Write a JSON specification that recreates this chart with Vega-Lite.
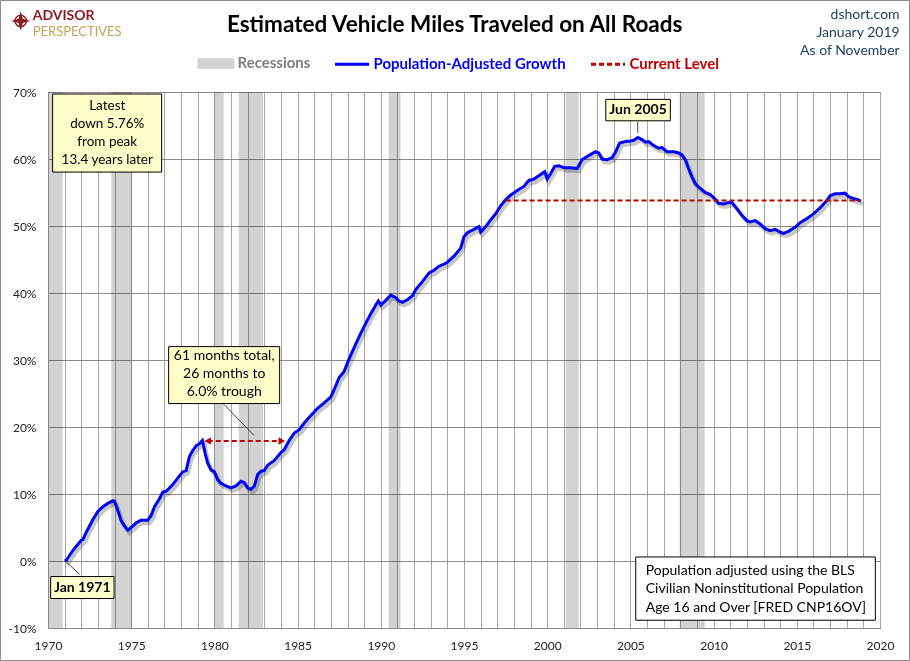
{
  "$schema": "https://vega.github.io/schema/vega-lite/v6.json",
  "width": 832,
  "height": 536,
  "autosize": {"type": "none"},
  "padding": {"left": 48, "top": 92, "right": 30, "bottom": 33},
  "background": "white",
  "config": {"font": "Lato", "view": {"stroke": "#8c8c8c", "strokeWidth": 1}, "axis": {"labelOverlap": false}},
  "datasets": {
    "rec": [
      {"start": 1970.0, "end": 1970.88},
      {"start": 1973.8, "end": 1975.05},
      {"start": 1980.0, "end": 1980.56},
      {"start": 1981.46, "end": 1982.92},
      {"start": 1990.47, "end": 1991.18},
      {"start": 2001.11, "end": 2001.89},
      {"start": 2007.96, "end": 2009.46}
    ],
    "level": [{"from": 1997.5, "to": 2018.85, "pct": 53.8}],
    "vmt": [
      {"year": 1971.0, "pct": 0.0}, {"year": 1971.1, "pct": 0.1}, {"year": 1971.5, "pct": 1.6}, {"year": 1972.0, "pct": 3.1},
      {"year": 1972.1, "pct": 3.2}, {"year": 1972.3, "pct": 4.3}, {"year": 1972.7, "pct": 6.2}, {"year": 1973.0, "pct": 7.4},
      {"year": 1973.3, "pct": 8.1}, {"year": 1973.6, "pct": 8.6}, {"year": 1973.9, "pct": 9.0}, {"year": 1974.0, "pct": 8.9},
      {"year": 1974.2, "pct": 7.5}, {"year": 1974.4, "pct": 6.0}, {"year": 1974.6, "pct": 5.2}, {"year": 1974.8, "pct": 4.6},
      {"year": 1975.0, "pct": 5.0}, {"year": 1975.3, "pct": 5.7}, {"year": 1975.6, "pct": 6.1}, {"year": 1976.0, "pct": 6.1},
      {"year": 1976.2, "pct": 6.8}, {"year": 1976.4, "pct": 8.1}, {"year": 1976.7, "pct": 9.3}, {"year": 1976.9, "pct": 10.3},
      {"year": 1977.1, "pct": 10.4}, {"year": 1977.5, "pct": 11.4}, {"year": 1977.9, "pct": 12.7}, {"year": 1978.1, "pct": 13.3},
      {"year": 1978.3, "pct": 13.5}, {"year": 1978.5, "pct": 15.6}, {"year": 1978.7, "pct": 16.5}, {"year": 1978.9, "pct": 17.2},
      {"year": 1979.1, "pct": 17.5}, {"year": 1979.28, "pct": 18.0}, {"year": 1979.45, "pct": 16.0}, {"year": 1979.6, "pct": 14.6},
      {"year": 1979.8, "pct": 13.6}, {"year": 1980.0, "pct": 13.3}, {"year": 1980.2, "pct": 12.1}, {"year": 1980.4, "pct": 11.6},
      {"year": 1980.7, "pct": 11.2}, {"year": 1981.0, "pct": 10.9}, {"year": 1981.3, "pct": 11.2}, {"year": 1981.6, "pct": 11.9},
      {"year": 1981.8, "pct": 11.7}, {"year": 1982.0, "pct": 10.9}, {"year": 1982.2, "pct": 10.7}, {"year": 1982.4, "pct": 11.2},
      {"year": 1982.6, "pct": 12.9}, {"year": 1982.8, "pct": 13.4}, {"year": 1983.0, "pct": 13.5}, {"year": 1983.2, "pct": 14.3},
      {"year": 1983.6, "pct": 15.0}, {"year": 1984.0, "pct": 16.2}, {"year": 1984.2, "pct": 16.6}, {"year": 1984.5, "pct": 18.0},
      {"year": 1984.8, "pct": 19.1}, {"year": 1985.1, "pct": 19.6}, {"year": 1985.4, "pct": 20.6}, {"year": 1985.8, "pct": 21.7},
      {"year": 1986.2, "pct": 22.8}, {"year": 1986.6, "pct": 23.6}, {"year": 1987.0, "pct": 24.5}, {"year": 1987.2, "pct": 25.6},
      {"year": 1987.5, "pct": 27.4}, {"year": 1987.8, "pct": 28.3}, {"year": 1988.1, "pct": 30.2}, {"year": 1988.5, "pct": 32.4},
      {"year": 1988.8, "pct": 34.0}, {"year": 1989.1, "pct": 35.5}, {"year": 1989.4, "pct": 36.9}, {"year": 1989.7, "pct": 38.2},
      {"year": 1989.85, "pct": 38.8}, {"year": 1990.0, "pct": 38.2}, {"year": 1990.3, "pct": 38.9}, {"year": 1990.6, "pct": 39.7},
      {"year": 1990.9, "pct": 39.3}, {"year": 1991.1, "pct": 38.8}, {"year": 1991.3, "pct": 38.6}, {"year": 1991.6, "pct": 39.0},
      {"year": 1991.9, "pct": 39.6}, {"year": 1992.1, "pct": 40.5}, {"year": 1992.5, "pct": 41.7}, {"year": 1992.9, "pct": 43.0},
      {"year": 1993.2, "pct": 43.4}, {"year": 1993.5, "pct": 44.0}, {"year": 1993.8, "pct": 44.3}, {"year": 1994.0, "pct": 44.6},
      {"year": 1994.4, "pct": 45.5}, {"year": 1994.8, "pct": 46.7}, {"year": 1995.0, "pct": 48.4}, {"year": 1995.2, "pct": 49.0},
      {"year": 1995.6, "pct": 49.5}, {"year": 1995.9, "pct": 49.9}, {"year": 1996.0, "pct": 49.1}, {"year": 1996.3, "pct": 49.9},
      {"year": 1996.6, "pct": 50.9}, {"year": 1996.9, "pct": 51.8}, {"year": 1997.2, "pct": 53.0}, {"year": 1997.5, "pct": 53.9},
      {"year": 1997.8, "pct": 54.6}, {"year": 1998.2, "pct": 55.3}, {"year": 1998.6, "pct": 55.9}, {"year": 1998.9, "pct": 56.8},
      {"year": 1999.2, "pct": 57.0}, {"year": 1999.5, "pct": 57.5}, {"year": 1999.85, "pct": 58.1}, {"year": 2000.0, "pct": 57.0},
      {"year": 2000.2, "pct": 57.8}, {"year": 2000.45, "pct": 58.9}, {"year": 2000.7, "pct": 59.0}, {"year": 2001.0, "pct": 58.7},
      {"year": 2001.4, "pct": 58.7}, {"year": 2001.8, "pct": 58.6}, {"year": 2002.1, "pct": 59.9}, {"year": 2002.5, "pct": 60.5},
      {"year": 2002.9, "pct": 61.1}, {"year": 2003.1, "pct": 60.9}, {"year": 2003.3, "pct": 60.0}, {"year": 2003.6, "pct": 59.9},
      {"year": 2003.9, "pct": 60.2}, {"year": 2004.1, "pct": 61.0}, {"year": 2004.35, "pct": 62.4}, {"year": 2004.7, "pct": 62.6},
      {"year": 2005.0, "pct": 62.7}, {"year": 2005.2, "pct": 62.8}, {"year": 2005.45, "pct": 63.2}, {"year": 2005.7, "pct": 62.9},
      {"year": 2005.9, "pct": 62.5}, {"year": 2006.1, "pct": 62.6}, {"year": 2006.4, "pct": 62.0}, {"year": 2006.7, "pct": 61.6},
      {"year": 2006.9, "pct": 61.7}, {"year": 2007.2, "pct": 61.1}, {"year": 2007.6, "pct": 61.1}, {"year": 2007.9, "pct": 60.9},
      {"year": 2008.1, "pct": 60.6}, {"year": 2008.3, "pct": 59.9}, {"year": 2008.5, "pct": 58.5}, {"year": 2008.7, "pct": 57.3},
      {"year": 2008.9, "pct": 56.3}, {"year": 2009.2, "pct": 55.6}, {"year": 2009.5, "pct": 55.0}, {"year": 2009.8, "pct": 54.7},
      {"year": 2010.1, "pct": 54.0}, {"year": 2010.3, "pct": 53.4}, {"year": 2010.6, "pct": 53.3}, {"year": 2010.9, "pct": 53.5},
      {"year": 2011.1, "pct": 53.5}, {"year": 2011.4, "pct": 52.6}, {"year": 2011.7, "pct": 51.6}, {"year": 2012.0, "pct": 50.8},
      {"year": 2012.2, "pct": 50.6}, {"year": 2012.5, "pct": 50.8}, {"year": 2012.8, "pct": 50.3}, {"year": 2013.1, "pct": 49.6},
      {"year": 2013.4, "pct": 49.3}, {"year": 2013.7, "pct": 49.5}, {"year": 2014.0, "pct": 49.1}, {"year": 2014.2, "pct": 48.9},
      {"year": 2014.5, "pct": 49.2}, {"year": 2014.9, "pct": 49.8}, {"year": 2015.2, "pct": 50.5}, {"year": 2015.6, "pct": 51.1},
      {"year": 2016.0, "pct": 51.8}, {"year": 2016.4, "pct": 52.7}, {"year": 2016.8, "pct": 53.8}, {"year": 2017.0, "pct": 54.5},
      {"year": 2017.3, "pct": 54.8}, {"year": 2017.6, "pct": 54.8}, {"year": 2017.9, "pct": 54.9}, {"year": 2018.1, "pct": 54.4},
      {"year": 2018.4, "pct": 54.1}, {"year": 2018.7, "pct": 53.9}, {"year": 2018.85, "pct": 53.7}
    ]
  },
  "layer": [
    {
      "data": {"name": "rec"},
      "mark": {"type": "rect", "blend": "multiply"},
      "encoding": {
        "x": {"field": "start", "type": "quantitative", "scale": {"domain": [1970, 2020], "nice": false, "zero": false},
          "axis": {"title": null, "values": [1970,1971,1972,1973,1974,1975,1976,1977,1978,1979,1980,1981,1982,1983,1984,1985,1986,1987,1988,1989,1990,1991,1992,1993,1994,1995,1996,1997,1998,1999,2000,2001,2002,2003,2004,2005,2006,2007,2008,2009,2010,2011,2012,2013,2014,2015,2016,2017,2018,2019,2020],
            "tickCount": 100,
            "labelExpr": "datum.value % 5 === 0 ? toString(datum.value) : ''", "grid": true, "gridColor": "#a6a6a6", "gridWidth": 1, "ticks": false, "domain": false,
            "labelFont": "Lato", "labelFontSize": 12, "labelColor": "#222222", "labelPadding": 12, "labelOverlap": false, "labelFlush": false}},
        "x2": {"field": "end"},
        "color": {"datum": "Recessions", "type": "nominal",
          "scale": {"domain": ["Recessions", "Population-Adjusted Growth", "Current Level"], "range": ["#d3d3d3", "#0000ff", "#c00000"]},
          "legend": {"orient": "none", "legendX": 149.5, "legendY": -47.5, "direction": "horizontal", "title": null,
            "symbolType": "stroke", "symbolSize": 1156, "symbolStrokeWidth": 3, "labelLimit": 400,
            "labelFont": "Lato", "labelFontSize": 15, "labelFontWeight": "bold", "labelOffset": 3, "columnPadding": 18, "padding": 0,
            "encode": {
              "symbols": {"update": {
                "shape": {"signal": "(datum.value === 'Recessions') ? 'M-1,-0.23H1V0.23H-1Z' : 'stroke'"},
                "stroke": {"signal": "(datum.value === 'Recessions') ? 'transparent' : scale('color', datum.value)"},
                "fill": {"signal": "(datum.value === 'Recessions') ? '#d3d3d3' : 'transparent'"},
                "strokeDash": {"signal": "(datum.value === 'Current Level') ? [5,3] : [1,0]"}, "opacity": {"value": 1}}},
              "labels": {"update": {"fill": {"signal": "(datum.value === 'Recessions') ? '#7f7f7f' : scale('color', datum.value)"}}}
            }}}
      }
    },
    {
      "data": {"name": "vmt"},
      "mark": {"type": "line", "stroke": "#000000", "opacity": 0.22, "strokeWidth": 4, "xOffset": 2, "yOffset": 3},
      "encoding": {
        "x": {"field": "year", "type": "quantitative"},
        "y": {"field": "pct", "type": "quantitative", "scale": {"domain": [-10, 70], "nice": false, "zero": false},
          "axis": {"title": null, "values": [-10, 0, 10, 20, 30, 40, 50, 60, 70], "tickCount": 20, "labelExpr": "datum.value + '%'", "grid": true, "gridColor": "#8c8c8c", "ticks": false, "domain": false,
            "labelFont": "Lato", "labelFontSize": 12, "labelColor": "#222222", "labelPadding": 12}}
      }
    },
    {
      "data": {"name": "vmt"},
      "mark": {"type": "line", "strokeWidth": 3},
      "encoding": {
        "x": {"field": "year", "type": "quantitative"},
        "y": {"field": "pct", "type": "quantitative"},
        "color": {"datum": "Population-Adjusted Growth", "type": "nominal"}
      }
    },
    {
      "data": {"name": "level"},
      "mark": {"type": "rule", "strokeWidth": 2, "strokeDash": [5, 3]},
      "encoding": {
        "x": {"field": "from", "type": "quantitative"},
        "x2": {"field": "to"},
        "y": {"field": "pct", "type": "quantitative"},
        "color": {"datum": "Current Level", "type": "nominal"}
      }
    },
    {
      "data": {"values": [{}]},
      "mark": {"type": "rule", "stroke": "#c00000", "strokeWidth": 2, "strokeDash": [5, 3]},
      "encoding": {"x": {"datum": 1979.6, "type": "quantitative"}, "x2": {"datum": 1984.05}, "y": {"datum": 17.9, "type": "quantitative"}}
    },
    {
      "data": {"values": [{}]},
      "mark": {"type": "point", "shape": "triangle-left", "filled": true, "fill": "#c00000", "opacity": 1, "size": 55},
      "encoding": {"x": {"datum": 1979.6, "type": "quantitative"}, "y": {"datum": 17.9, "type": "quantitative"}}
    },
    {
      "data": {"values": [{}]},
      "mark": {"type": "point", "shape": "triangle-right", "filled": true, "fill": "#c00000", "opacity": 1, "size": 55},
      "encoding": {"x": {"datum": 1984.05, "type": "quantitative"}, "y": {"datum": 17.9, "type": "quantitative"}}
    },
    {
      "data": {"values": [{}]},
      "mark": {"type": "rule", "stroke": "#444444", "strokeWidth": 1},
      "encoding": {"x": {"datum": 1980.58, "type": "quantitative"}, "x2": {"datum": 1982.38}, "y": {"datum": 23.36, "type": "quantitative"}, "y2": {"datum": 18.74}}
    },
    {
      "data": {"values": [{}]},
      "mark": {"type": "rule", "stroke": "#444444", "strokeWidth": 1},
      "encoding": {"x": {"datum": 2005.44, "type": "quantitative"}, "y": {"datum": 65.57, "type": "quantitative"}, "y2": {"datum": 63.93}}
    },
    {
      "data": {"values": [{}]},
      "mark": {"type": "rule", "stroke": "#444444", "strokeWidth": 1},
      "encoding": {"x": {"datum": 1971.1, "type": "quantitative"}, "x2": {"datum": 1971.9}, "y": {"datum": -0.15, "type": "quantitative"}, "y2": {"datum": -1.98}}
    },
    {
      "data": {"values": [{}]},
      "mark": {"type": "rect", "fill": "#000000", "opacity": 0.22, "xOffset": 3, "yOffset": 3},
      "encoding": {"x": {"datum": 1970.28, "type": "quantitative"}, "x2": {"datum": 1976.83}, "y": {"datum": 69.7, "type": "quantitative"}, "y2": {"datum": 58.05}}
    },
    {
      "data": {"values": [{}]},
      "mark": {"type": "rect", "fill": "#ffffcc", "stroke": "#000000", "strokeWidth": 1},
      "encoding": {"x": {"datum": 1970.28, "type": "quantitative"}, "x2": {"datum": 1976.83}, "y": {"datum": 69.7, "type": "quantitative"}, "y2": {"datum": 58.05}}
    },
    {
      "data": {"values": [{}]},
      "mark": {"type": "text", "text": ["Latest", "down 5.76%", "from peak", "13.4 years later"], "lineHeight": 18, "fontSize": 13.5, "font": "Lato", "align": "center", "baseline": "middle", "color": "#000000"},
      "encoding": {"x": {"datum": 1973.56, "type": "quantitative"}, "y": {"datum": 67.96, "type": "quantitative"}}
    },
    {
      "data": {"values": [{}]},
      "mark": {"type": "rect", "fill": "#000000", "opacity": 0.22, "xOffset": 3, "yOffset": 3},
      "encoding": {"x": {"datum": 1977.25, "type": "quantitative"}, "x2": {"datum": 1983.92}, "y": {"datum": 32.0, "type": "quantitative"}, "y2": {"datum": 23.5}}
    },
    {
      "data": {"values": [{}]},
      "mark": {"type": "rect", "fill": "#ffffcc", "stroke": "#000000", "strokeWidth": 1},
      "encoding": {"x": {"datum": 1977.25, "type": "quantitative"}, "x2": {"datum": 1983.92}, "y": {"datum": 32.0, "type": "quantitative"}, "y2": {"datum": 23.5}}
    },
    {
      "data": {"values": [{}]},
      "mark": {"type": "text", "text": ["61 months total,", "26 months to", "6.0% trough"], "lineHeight": 18, "fontSize": 14, "font": "Lato", "align": "center", "baseline": "middle", "color": "#000000"},
      "encoding": {"x": {"datum": 1980.59, "type": "quantitative"}, "y": {"datum": 30.55, "type": "quantitative"}}
    },
    {
      "data": {"values": [{}]},
      "mark": {"type": "rect", "fill": "#000000", "opacity": 0.22, "xOffset": 3, "yOffset": 3},
      "encoding": {"x": {"datum": 2003.52, "type": "quantitative"}, "x2": {"datum": 2007.4}, "y": {"datum": 68.9, "type": "quantitative"}, "y2": {"datum": 65.7}}
    },
    {
      "data": {"values": [{}]},
      "mark": {"type": "rect", "fill": "#ffffcc", "stroke": "#000000", "strokeWidth": 1},
      "encoding": {"x": {"datum": 2003.52, "type": "quantitative"}, "x2": {"datum": 2007.4}, "y": {"datum": 68.9, "type": "quantitative"}, "y2": {"datum": 65.7}}
    },
    {
      "data": {"values": [{}]},
      "mark": {"type": "text", "text": "Jun 2005", "fontSize": 14, "fontWeight": "bold", "font": "Lato", "align": "center", "baseline": "middle", "color": "#000000"},
      "encoding": {"x": {"datum": 2005.46, "type": "quantitative"}, "y": {"datum": 67.3, "type": "quantitative"}}
    },
    {
      "data": {"values": [{}]},
      "mark": {"type": "rect", "fill": "#000000", "opacity": 0.22, "xOffset": 3, "yOffset": 3},
      "encoding": {"x": {"datum": 1970.16, "type": "quantitative"}, "x2": {"datum": 1973.97}, "y": {"datum": -2.32, "type": "quantitative"}, "y2": {"datum": -5.6}}
    },
    {
      "data": {"values": [{}]},
      "mark": {"type": "rect", "fill": "#ffffcc", "stroke": "#000000", "strokeWidth": 1},
      "encoding": {"x": {"datum": 1970.16, "type": "quantitative"}, "x2": {"datum": 1973.97}, "y": {"datum": -2.32, "type": "quantitative"}, "y2": {"datum": -5.6}}
    },
    {
      "data": {"values": [{}]},
      "mark": {"type": "text", "text": "Jan 1971", "fontSize": 14, "fontWeight": "bold", "font": "Lato", "align": "center", "baseline": "middle", "color": "#000000"},
      "encoding": {"x": {"datum": 1972.06, "type": "quantitative"}, "y": {"datum": -4.0, "type": "quantitative"}}
    },
    {
      "data": {"values": [{}]},
      "mark": {"type": "rect", "fill": "#000000", "opacity": 0.22, "xOffset": 3, "yOffset": 3},
      "encoding": {"x": {"datum": 2005.32, "type": "quantitative"}, "x2": {"datum": 2019.72}, "y": {"datum": 0.6, "type": "quantitative"}, "y2": {"datum": -8.84}}
    },
    {
      "data": {"values": [{}]},
      "mark": {"type": "rect", "fill": "#ffffff", "stroke": "#000000", "strokeWidth": 1},
      "encoding": {"x": {"datum": 2005.32, "type": "quantitative"}, "x2": {"datum": 2019.72}, "y": {"datum": 0.6, "type": "quantitative"}, "y2": {"datum": -8.84}}
    },
    {
      "data": {"values": [{}]},
      "mark": {"type": "text", "text": ["Population adjusted using the BLS", "Civilian Noninstitutional Population", "Age 16 and Over  [FRED CNP16OV]"], "lineHeight": 18.3, "fontSize": 14, "font": "Lato", "align": "left", "baseline": "middle", "color": "#000000"},
      "encoding": {"x": {"datum": 2005.92, "type": "quantitative"}, "y": {"datum": -1.49, "type": "quantitative"}}
    },
    {
      "data": {"values": [{}]},
      "mark": {"type": "text", "text": "Estimated Vehicle Miles Traveled on All Roads", "fontSize": 22.5, "fontWeight": "bold", "font": "Lato", "align": "center", "baseline": "alphabetic", "color": "#000000"},
      "encoding": {"x": {"datum": 1994.44, "type": "quantitative"}, "y": {"datum": 78.94, "type": "quantitative"}}
    },
    {
      "data": {"values": [{}]},
      "mark": {"type": "text", "text": ["dshort.com", "January 2019", "As of November"], "lineHeight": 18, "fontSize": 14, "font": "Lato", "align": "right", "baseline": "middle", "color": "#243f60"},
      "encoding": {"x": {"datum": 2021.18, "type": "quantitative"}, "y": {"datum": 81.48, "type": "quantitative"}}
    },
    {
      "data": {"values": [{}]},
      "mark": {"type": "text", "text": "ADVISOR", "fontSize": 14, "fontWeight": "bold", "font": "Lato", "align": "left", "baseline": "alphabetic", "color": "#8b1d24"},
      "encoding": {"x": {"datum": 1969.08, "type": "quantitative"}, "y": {"datum": 80.82, "type": "quantitative"}}
    },
    {
      "data": {"values": [{}]},
      "mark": {"type": "text", "text": "PERSPECTIVES", "fontSize": 13, "font": "Lato", "align": "left", "baseline": "alphabetic", "color": "#c5a55a"},
      "encoding": {"x": {"datum": 1969.08, "type": "quantitative"}, "y": {"datum": 78.36, "type": "quantitative"}}
    },
    {
      "data": {"values": [{}]},
      "mark": {"type": "point", "shape": "circle", "filled": false, "stroke": "#8b1d24", "strokeWidth": 1.5, "opacity": 1, "size": 130},
      "encoding": {"x": {"datum": 1968.36, "type": "quantitative"}, "y": {"datum": 80.6, "type": "quantitative"}}
    },
    {
      "data": {"values": [{}]},
      "mark": {"type": "point", "shape": "M0,-1L0.22,-0.22L1,0L0.22,0.22L0,1L-0.22,0.22L-1,0L-0.22,-0.22Z", "filled": true, "fill": "#8b1d24", "opacity": 1, "size": 380},
      "encoding": {"x": {"datum": 1968.36, "type": "quantitative"}, "y": {"datum": 80.6, "type": "quantitative"}}
    },
    {
      "data": {"values": [{}]},
      "mark": {"type": "rect", "fill": "transparent", "stroke": "#8c8c8c", "strokeWidth": 1},
      "encoding": {"x": {"datum": 1967.145, "type": "quantitative"}, "x2": {"datum": 2021.773}, "y": {"datum": 83.657, "type": "quantitative"}, "y2": {"datum": -14.85}}
    }
  ]
}
